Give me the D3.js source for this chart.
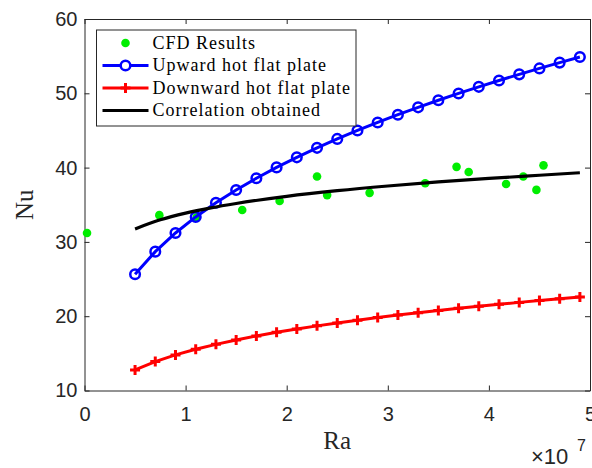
<!DOCTYPE html>
<html>
<head>
<meta charset="utf-8">
<script src="https://cdn.jsdelivr.net/npm/d3@7"></script>
<style>
  body { margin: 0; background: #fff; }
</style>
</head>
<body>
<div id="chart-area"></div>
<script>
// Ra values are in units of 1e7 (axis shows x10^7)
var raGrid = [0.5, 0.7, 0.9, 1.1, 1.3, 1.5, 1.7, 1.9, 2.1, 2.3, 2.5, 2.7,
              2.9, 3.1, 3.3, 3.5, 3.7, 3.9, 4.1, 4.3, 4.5, 4.7, 4.9];
var upwardNu = [25.65, 28.69, 31.20, 33.36, 35.27, 36.99, 38.57, 40.03, 41.38, 42.66, 43.86, 45.00,
                46.08, 47.12, 48.11, 49.06, 49.98, 50.87, 51.72, 52.55, 53.35, 54.13, 54.89];
var downwardNu = [12.77, 13.89, 14.79, 15.55, 16.21, 16.80, 17.34, 17.83, 18.28, 18.70, 19.09, 19.46,
                  19.81, 20.15, 20.46, 20.77, 21.06, 21.34, 21.61, 21.86, 22.11, 22.36, 22.59];
var corrRa = [0.5, 0.75, 1, 1.25, 1.5, 2, 2.5, 3, 3.5, 4, 4.5, 4.9];
var corrNu = [31.75, 32.97, 33.87, 34.58, 35.17, 36.13, 36.89, 37.52, 38.07, 38.54, 38.97, 39.31];
var cfdRa = [0.025, 0.74, 1.11, 1.56, 1.93, 2.30, 2.40, 2.82, 3.37, 3.68, 3.80, 4.17, 4.34, 4.47, 4.54];
var cfdNu = [31.2, 33.6, 33.3, 34.3, 35.5, 38.8, 36.3, 36.6, 37.9, 40.1, 39.4, 37.8, 38.8, 37.0, 40.3];
var xTicks = [0, 1, 2, 3, 4, 5];
var yTicks = [10, 20, 30, 40, 50, 60];
var legendLabels = ["CFD Results", "Upward hot flat plate", "Downward hot flat plate", "Correlation obtained"];

var margin = { left: 84.5, right: 2, top: 19, bottom: 77.5 };
var width = 592 - margin.left - margin.right,
    height = 468 - margin.top - margin.bottom;

var axisColor = "#262626";
var serif = "'Liberation Serif', 'Times New Roman', serif";
var sans = "'Liberation Sans', Arial, sans-serif";

var svg = d3.select("#chart-area")
    .append("svg")
        .attr("width", 592)
        .attr("height", 468);

var g = svg.append("g")
    .attr("transform", "translate(" + margin.left + ", " + margin.top + ")");

var x = d3.scaleLinear().domain([0, 5]).range([0, width]);
var y = d3.scaleLinear().domain([10, 60]).range([height, 0]);

// Axes (box with inward ticks on all four sides)
function styleAxis(sel) {
    sel.selectAll("path, line").attr("stroke", axisColor).attr("stroke-width", 1);
    sel.selectAll("text")
        .attr("fill", axisColor)
        .attr("font-family", sans)
        .attr("font-size", "20px");
}

g.append("g")
    .attr("transform", "translate(0," + height + ")")
    .call(d3.axisBottom(x).tickValues(xTicks).tickFormat(d3.format("d"))
        .tickSize(-5).tickSizeOuter(0).tickPadding(16))
    .call(styleAxis);

g.append("g")
    .call(d3.axisTop(x).tickValues(xTicks).tickSize(-5).tickSizeOuter(0).tickFormat(""))
    .call(styleAxis);

g.append("g")
    .call(d3.axisLeft(y).tickValues(yTicks).tickSize(-5).tickSizeOuter(0).tickPadding(7))
    .call(styleAxis);

g.append("g")
    .attr("transform", "translate(" + width + ",0)")
    .call(d3.axisRight(y).tickValues(yTicks).tickSize(-5).tickSizeOuter(0).tickFormat(""))
    .call(styleAxis);

// Axis labels
svg.append("text")
    .attr("x", margin.left + width / 2)
    .attr("y", 449)
    .attr("text-anchor", "middle")
    .attr("font-family", serif)
    .attr("font-size", "25px")
    .attr("fill", axisColor)
    .text("Ra");

svg.append("text")
    .attr("transform", "translate(33," + (margin.top + height / 2) + ") rotate(-90)")
    .attr("text-anchor", "middle")
    .attr("font-family", serif)
    .attr("font-size", "25px")
    .attr("fill", axisColor)
    .text("Nu");

// x10^7 exponent label
svg.append("text")
    .attr("x", 531)
    .attr("y", 464)
    .attr("font-family", sans)
    .attr("font-size", "22px")
    .attr("fill", axisColor)
    .text("\u00d710");
svg.append("text")
    .attr("x", 577)
    .attr("y", 451)
    .attr("font-family", sans)
    .attr("font-size", "16px")
    .attr("fill", axisColor)
    .text("7");

// Data
var cfd = cfdRa.map(function(d, i) { return [d, cfdNu[i]]; });
var upward = raGrid.map(function(d, i) { return [d, upwardNu[i]]; });
var downward = raGrid.map(function(d, i) { return [d, downwardNu[i]]; });
var corr = corrRa.map(function(d, i) { return [d, corrNu[i]]; });

var line = d3.line()
    .x(function(d) { return x(d[0]); })
    .y(function(d) { return y(d[1]); });

var plot = g.append("g");

// CFD points
plot.selectAll("circle.cfd")
    .data(cfd)
    .enter().append("circle")
        .attr("class", "cfd")
        .attr("cx", function(d) { return x(d[0]); })
        .attr("cy", function(d) { return y(d[1]); })
        .attr("r", 4.3)
        .attr("fill", "#00ee00");

// Upward hot flat plate
plot.append("path")
    .attr("d", line(upward))
    .attr("fill", "none")
    .attr("stroke", "#0000ff")
    .attr("stroke-width", 3);
plot.selectAll("circle.up")
    .data(upward)
    .enter().append("circle")
        .attr("class", "up")
        .attr("cx", function(d) { return x(d[0]); })
        .attr("cy", function(d) { return y(d[1]); })
        .attr("r", 4.8)
        .attr("fill", "none")
        .attr("stroke", "#0000ff")
        .attr("stroke-width", 2.5);

// Downward hot flat plate
plot.append("path")
    .attr("d", line(downward))
    .attr("fill", "none")
    .attr("stroke", "#ff0000")
    .attr("stroke-width", 3);
plot.selectAll("path.down")
    .data(downward)
    .enter().append("path")
        .attr("class", "down")
        .attr("transform", function(d) { return "translate(" + x(d[0]) + "," + y(d[1]) + ")"; })
        .attr("d", "M-5,0H5M0,-5V5")
        .attr("stroke", "#ff0000")
        .attr("stroke-width", 3);

// Correlation obtained
var smooth = d3.line().curve(d3.curveMonotoneX)
    .x(function(d) { return x(d[0]); })
    .y(function(d) { return y(d[1]); });
plot.append("path")
    .attr("d", smooth(corr))
    .attr("fill", "none")
    .attr("stroke", "#000000")
    .attr("stroke-width", 3.2);

// Legend
var legend = svg.append("g").attr("transform", "translate(96.5,30)");
legend.append("rect")
    .attr("width", 259.5)
    .attr("height", 96)
    .attr("fill", "#fff")
    .attr("stroke", axisColor)
    .attr("stroke-width", 1);

var rowY = [13, 35.5, 58, 80.5];
var rows = legend.selectAll("g.row")
    .data(legendLabels)
    .enter().append("g")
        .attr("class", "row")
        .attr("transform", function(d, i) { return "translate(0," + rowY[i] + ")"; });

rows.append("text")
    .attr("x", 56)
    .attr("dy", "0.33em")
    .attr("font-family", serif)
    .attr("font-size", "18px")
    .attr("letter-spacing", "1px")
    .attr("fill", "#000")
    .text(function(d) { return d; });

// legend samples
rows.filter(function(d, i) { return i === 0; })
    .append("circle").attr("cx", 29).attr("r", 4.3).attr("fill", "#00ee00");

var r1 = rows.filter(function(d, i) { return i === 1; });
r1.append("line").attr("x1", 6).attr("x2", 52).attr("stroke", "#0000ff").attr("stroke-width", 3);
r1.append("circle").attr("cx", 29).attr("r", 4.8).attr("fill", "#fff")
    .attr("stroke", "#0000ff").attr("stroke-width", 2.5);

var r2 = rows.filter(function(d, i) { return i === 2; });
r2.append("line").attr("x1", 6).attr("x2", 52).attr("stroke", "#ff0000").attr("stroke-width", 3);
r2.append("path").attr("transform", "translate(29,0)").attr("d", "M-5,0H5M0,-5V5")
    .attr("stroke", "#ff0000").attr("stroke-width", 3);

var r3 = rows.filter(function(d, i) { return i === 3; });
r3.append("line").attr("x1", 6).attr("x2", 52).attr("stroke", "#000").attr("stroke-width", 3.2);
</script>
</body>
</html>
